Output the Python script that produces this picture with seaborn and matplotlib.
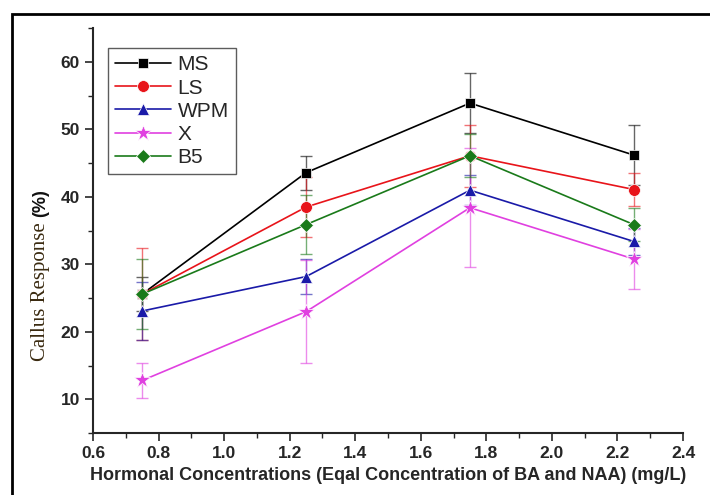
import numpy as np
import pandas as pd
import seaborn as sns
import matplotlib.pyplot as plt
from matplotlib.patches import Rectangle
from matplotlib.ticker import MultipleLocator

conc = [0.75, 1.25, 1.75, 2.25]
media = ["MS", "LS", "WPM", "X", "B5"]
ms = [25.6, 43.6, 53.9, 46.2]
ls = [25.6, 38.5, 46.1, 41.1]
wpm = [23.1, 28.2, 41.0, 33.4]
xm = [12.8, 23.0, 38.4, 30.8]
b5 = [25.6, 35.9, 46.1, 35.9]
ms_err = [2.5, 2.5, 4.4, 4.5]
ls_err = [6.8, 4.5, 4.6, 2.4]
wpm_err = [4.3, 2.6, 2.2, 2.0]
x_err = [2.6, 7.6, 8.8, 4.5]
b5_err = [5.2, 4.4, 3.2, 2.5]

values = [ms, ls, wpm, xm, b5]
errors = [ms_err, ls_err, wpm_err, x_err, b5_err]

rows = []
for m, v, e in zip(media, values, errors):
    for c, vi, ei in zip(conc, v, e):
        rows.append({"conc": c, "resp": vi, "err": ei, "medium": m})
df = pd.DataFrame(rows)

palette = {"MS": "#000000", "LS": "#e8141a", "WPM": "#1a1aa8", "X": "#e040e0", "B5": "#1a7a1a"}
markers = {"MS": "s", "LS": "o", "WPM": "^", "X": "*", "B5": "D"}
msize = {"MS": 7.5, "LS": 8.5, "WPM": 8.5, "X": 12, "B5": 7}

sns.set_style("ticks")
plt.rcParams["font.family"] = ["Liberation Sans", "DejaVu Sans"]

fig = plt.figure(figsize=(7.1, 4.95), dpi=100)
ax = fig.add_axes([0.131, 0.125, 0.831, 0.818])

sns.lineplot(data=df, x="conc", y="resp", hue="medium", style="medium",
             palette=palette, markers=markers, dashes=False, ax=ax,
             linewidth=1.2, markersize=8, markeredgewidth=0.5, zorder=3)
for line, m in zip(ax.get_lines()[:5], media):
    line.set_markersize(msize[m])

for m in media:
    sub = df[df.medium == m]
    ax.errorbar(sub.conc, sub.resp, yerr=sub.err, fmt="none", ecolor=palette[m],
                alpha=0.6, elinewidth=1.0, capsize=4, capthick=1.0, zorder=1)

ax.set_xlim(0.6, 2.4)
ax.set_ylim(5, 65)
ax.xaxis.set_minor_locator(MultipleLocator(0.1))
ax.yaxis.set_minor_locator(MultipleLocator(5))
ax.set_yticks([10, 20, 30, 40, 50, 60])
xt = np.arange(0.6, 2.41, 0.2)
ax.set_xticks(xt)
ax.set_xticklabels([f"{t:.1f}" for t in xt])
ax.tick_params(axis="both", which="major", direction="out", length=6, width=1.2,
               labelsize=12.5)
ax.tick_params(axis="both", which="minor", direction="out", length=3.5, width=1.0)
for lab in ax.get_xticklabels() + ax.get_yticklabels():
    lab.set_fontweight("bold")

sns.despine(ax=ax)
for s in ["left", "bottom"]:
    ax.spines[s].set_linewidth(1.5)

ax.set_xlabel("Hormonal Concentrations (Eqal Concentration of BA and NAA) (mg/L)",
              fontsize=13, fontweight="bold", labelpad=4)
ax.set_ylabel("")
fig.text(0.057, 0.41, "Callus Response", rotation=90, ha="center", va="center",
         fontsize=15, family="Liberation Serif", color="#3a2a10")
fig.text(0.057, 0.59, "(%)", rotation=90, ha="center", va="center",
         fontsize=13, fontweight="bold", color="#111111")

handles, labels = ax.get_legend_handles_labels()
for h, m in zip(handles, labels):
    h.set_markersize(msize[m])
leg = ax.legend(handles, labels, loc="upper left", bbox_to_anchor=(0.025, 0.951),
                frameon=True, fancybox=False, edgecolor="#333333", fontsize=15,
                handlelength=2.7, handletextpad=0.3, labelspacing=0.2,
                borderpad=0.35, borderaxespad=0)
leg.get_frame().set_linewidth(1.0)

fig.patches.append(Rectangle((0.017, -0.1), 1.2, 1.072, transform=fig.transFigure,
                             fill=False, edgecolor="black", linewidth=2.0))

fig.savefig("out.png", dpi=100)
